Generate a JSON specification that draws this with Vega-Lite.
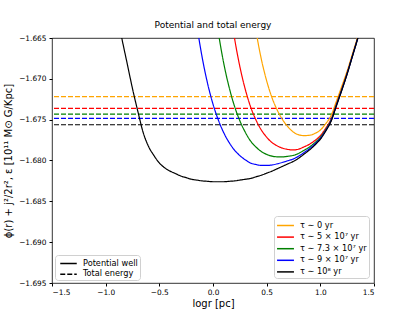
{
  "$schema": "https://vega.github.io/schema/vega-lite/v6.json",
  "width": 322,
  "height": 245,
  "autosize": {"type": "none"},
  "padding": {"left": 52, "top": 38, "right": 41, "bottom": 36},
  "title": {"text": "Potential and total energy", "fontSize": 9, "font": "DejaVu Sans", "fontWeight": "normal", "color": "black", "offset": 4},
  "config": {
    "view": {"stroke": "black", "strokeWidth": 0.8},
    "font": "DejaVu Sans",
    "axis": {"grid": false, "domain": false, "tickColor": "black", "tickSize": 3, "labelColor": "black", "labelFontSize": 7.4, "labelFont": "DejaVu Sans", "titleColor": "black", "titleFontSize": 10, "titleFontWeight": "normal", "titleFont": "DejaVu Sans"},
    "legend": {"fillColor": "white", "strokeColor": "#d0d0d0", "cornerRadius": 3, "labelFontSize": 8.2, "labelFont": "DejaVu Sans", "labelColor": "black"}
  },
  "datasets": {
    "wells": [
      {"tau": "τ ∼ 0 yr", "logr": 0.35, "value": -1.65966},
      {"tau": "τ ∼ 0 yr", "logr": 0.40, "value": -1.66409},
      {"tau": "τ ∼ 0 yr", "logr": 0.45, "value": -1.66757},
      {"tau": "τ ∼ 0 yr", "logr": 0.50, "value": -1.67025},
      {"tau": "τ ∼ 0 yr", "logr": 0.55, "value": -1.67232},
      {"tau": "τ ∼ 0 yr", "logr": 0.60, "value": -1.67387},
      {"tau": "τ ∼ 0 yr", "logr": 0.65, "value": -1.67504},
      {"tau": "τ ∼ 0 yr", "logr": 0.70, "value": -1.6759},
      {"tau": "τ ∼ 0 yr", "logr": 0.75, "value": -1.67653},
      {"tau": "τ ∼ 0 yr", "logr": 0.80, "value": -1.67686},
      {"tau": "τ ∼ 0 yr", "logr": 0.85, "value": -1.67695},
      {"tau": "τ ∼ 0 yr", "logr": 0.90, "value": -1.67691},
      {"tau": "τ ∼ 0 yr", "logr": 0.95, "value": -1.67668},
      {"tau": "τ ∼ 0 yr", "logr": 1.00, "value": -1.67627},
      {"tau": "τ ∼ 0 yr", "logr": 1.05, "value": -1.6755},
      {"tau": "τ ∼ 0 yr", "logr": 1.10, "value": -1.67449},
      {"tau": "τ ∼ 0 yr", "logr": 1.15, "value": -1.67273},
      {"tau": "τ ∼ 0 yr", "logr": 1.20, "value": -1.6709},
      {"tau": "τ ∼ 0 yr", "logr": 1.25, "value": -1.66904},
      {"tau": "τ ∼ 0 yr", "logr": 1.30, "value": -1.66692},
      {"tau": "τ ∼ 0 yr", "logr": 1.35, "value": -1.66478},
      {"tau": "τ ∼ 0 yr", "logr": 1.40, "value": -1.66252},
      {"tau": "τ ∼ 5 × 10⁷ yr", "logr": 0.15, "value": -1.6605},
      {"tau": "τ ∼ 5 × 10⁷ yr", "logr": 0.20, "value": -1.66498},
      {"tau": "τ ∼ 5 × 10⁷ yr", "logr": 0.25, "value": -1.66849},
      {"tau": "τ ∼ 5 × 10⁷ yr", "logr": 0.30, "value": -1.67125},
      {"tau": "τ ∼ 5 × 10⁷ yr", "logr": 0.35, "value": -1.67342},
      {"tau": "τ ∼ 5 × 10⁷ yr", "logr": 0.40, "value": -1.67503},
      {"tau": "τ ∼ 5 × 10⁷ yr", "logr": 0.45, "value": -1.67626},
      {"tau": "τ ∼ 5 × 10⁷ yr", "logr": 0.50, "value": -1.67715},
      {"tau": "τ ∼ 5 × 10⁷ yr", "logr": 0.55, "value": -1.67781},
      {"tau": "τ ∼ 5 × 10⁷ yr", "logr": 0.60, "value": -1.67822},
      {"tau": "τ ∼ 5 × 10⁷ yr", "logr": 0.65, "value": -1.6785},
      {"tau": "τ ∼ 5 × 10⁷ yr", "logr": 0.70, "value": -1.67865},
      {"tau": "τ ∼ 5 × 10⁷ yr", "logr": 0.75, "value": -1.67871},
      {"tau": "τ ∼ 5 × 10⁷ yr", "logr": 0.80, "value": -1.6786},
      {"tau": "τ ∼ 5 × 10⁷ yr", "logr": 0.85, "value": -1.67832},
      {"tau": "τ ∼ 5 × 10⁷ yr", "logr": 0.90, "value": -1.678},
      {"tau": "τ ∼ 5 × 10⁷ yr", "logr": 0.95, "value": -1.67755},
      {"tau": "τ ∼ 5 × 10⁷ yr", "logr": 1.00, "value": -1.67696},
      {"tau": "τ ∼ 5 × 10⁷ yr", "logr": 1.05, "value": -1.67605},
      {"tau": "τ ∼ 5 × 10⁷ yr", "logr": 1.10, "value": -1.67492},
      {"tau": "τ ∼ 5 × 10⁷ yr", "logr": 1.15, "value": -1.67308},
      {"tau": "τ ∼ 5 × 10⁷ yr", "logr": 1.20, "value": -1.67123},
      {"tau": "τ ∼ 5 × 10⁷ yr", "logr": 1.25, "value": -1.66926},
      {"tau": "τ ∼ 5 × 10⁷ yr", "logr": 1.30, "value": -1.66709},
      {"tau": "τ ∼ 5 × 10⁷ yr", "logr": 1.35, "value": -1.66491},
      {"tau": "τ ∼ 5 × 10⁷ yr", "logr": 1.40, "value": -1.66262},
      {"tau": "τ ∼ 7.3 × 10⁷ yr", "logr": -0.05, "value": -1.6536},
      {"tau": "τ ∼ 7.3 × 10⁷ yr", "logr": 0.00, "value": -1.6596},
      {"tau": "τ ∼ 7.3 × 10⁷ yr", "logr": 0.05, "value": -1.66433},
      {"tau": "τ ∼ 7.3 × 10⁷ yr", "logr": 0.10, "value": -1.66809},
      {"tau": "τ ∼ 7.3 × 10⁷ yr", "logr": 0.15, "value": -1.67102},
      {"tau": "τ ∼ 7.3 × 10⁷ yr", "logr": 0.20, "value": -1.67334},
      {"tau": "τ ∼ 7.3 × 10⁷ yr", "logr": 0.25, "value": -1.67513},
      {"tau": "τ ∼ 7.3 × 10⁷ yr", "logr": 0.30, "value": -1.67652},
      {"tau": "τ ∼ 7.3 × 10⁷ yr", "logr": 0.35, "value": -1.67761},
      {"tau": "τ ∼ 7.3 × 10⁷ yr", "logr": 0.40, "value": -1.67835},
      {"tau": "τ ∼ 7.3 × 10⁷ yr", "logr": 0.45, "value": -1.6789},
      {"tau": "τ ∼ 7.3 × 10⁷ yr", "logr": 0.50, "value": -1.67925},
      {"tau": "τ ∼ 7.3 × 10⁷ yr", "logr": 0.55, "value": -1.67947},
      {"tau": "τ ∼ 7.3 × 10⁷ yr", "logr": 0.60, "value": -1.67955},
      {"tau": "τ ∼ 7.3 × 10⁷ yr", "logr": 0.65, "value": -1.67955},
      {"tau": "τ ∼ 7.3 × 10⁷ yr", "logr": 0.70, "value": -1.67948},
      {"tau": "τ ∼ 7.3 × 10⁷ yr", "logr": 0.75, "value": -1.67937},
      {"tau": "τ ∼ 7.3 × 10⁷ yr", "logr": 0.80, "value": -1.67912},
      {"tau": "τ ∼ 7.3 × 10⁷ yr", "logr": 0.85, "value": -1.67874},
      {"tau": "τ ∼ 7.3 × 10⁷ yr", "logr": 0.90, "value": -1.67834},
      {"tau": "τ ∼ 7.3 × 10⁷ yr", "logr": 0.95, "value": -1.67781},
      {"tau": "τ ∼ 7.3 × 10⁷ yr", "logr": 1.00, "value": -1.67717},
      {"tau": "τ ∼ 7.3 × 10⁷ yr", "logr": 1.05, "value": -1.67622},
      {"tau": "τ ∼ 7.3 × 10⁷ yr", "logr": 1.10, "value": -1.67506},
      {"tau": "τ ∼ 7.3 × 10⁷ yr", "logr": 1.15, "value": -1.67319},
      {"tau": "τ ∼ 7.3 × 10⁷ yr", "logr": 1.20, "value": -1.67131},
      {"tau": "τ ∼ 7.3 × 10⁷ yr", "logr": 1.25, "value": -1.66933},
      {"tau": "τ ∼ 7.3 × 10⁷ yr", "logr": 1.30, "value": -1.66714},
      {"tau": "τ ∼ 7.3 × 10⁷ yr", "logr": 1.35, "value": -1.66495},
      {"tau": "τ ∼ 7.3 × 10⁷ yr", "logr": 1.40, "value": -1.66266},
      {"tau": "τ ∼ 9 × 10⁷ yr", "logr": -0.20, "value": -1.6584},
      {"tau": "τ ∼ 9 × 10⁷ yr", "logr": -0.15, "value": -1.66345},
      {"tau": "τ ∼ 9 × 10⁷ yr", "logr": -0.10, "value": -1.66744},
      {"tau": "τ ∼ 9 × 10⁷ yr", "logr": -0.05, "value": -1.67059},
      {"tau": "τ ∼ 9 × 10⁷ yr", "logr": 0.00, "value": -1.6731},
      {"tau": "τ ∼ 9 × 10⁷ yr", "logr": 0.05, "value": -1.67505},
      {"tau": "τ ∼ 9 × 10⁷ yr", "logr": 0.10, "value": -1.6766},
      {"tau": "τ ∼ 9 × 10⁷ yr", "logr": 0.15, "value": -1.67779},
      {"tau": "τ ∼ 9 × 10⁷ yr", "logr": 0.20, "value": -1.67872},
      {"tau": "τ ∼ 9 × 10⁷ yr", "logr": 0.25, "value": -1.6794},
      {"tau": "τ ∼ 9 × 10⁷ yr", "logr": 0.30, "value": -1.67991},
      {"tau": "τ ∼ 9 × 10⁷ yr", "logr": 0.35, "value": -1.68031},
      {"tau": "τ ∼ 9 × 10⁷ yr", "logr": 0.40, "value": -1.68049},
      {"tau": "τ ∼ 9 × 10⁷ yr", "logr": 0.45, "value": -1.6806},
      {"tau": "τ ∼ 9 × 10⁷ yr", "logr": 0.50, "value": -1.6806},
      {"tau": "τ ∼ 9 × 10⁷ yr", "logr": 0.55, "value": -1.68055},
      {"tau": "τ ∼ 9 × 10⁷ yr", "logr": 0.60, "value": -1.6804},
      {"tau": "τ ∼ 9 × 10⁷ yr", "logr": 0.65, "value": -1.68022},
      {"tau": "τ ∼ 9 × 10⁷ yr", "logr": 0.70, "value": -1.68002},
      {"tau": "τ ∼ 9 × 10⁷ yr", "logr": 0.75, "value": -1.6798},
      {"tau": "τ ∼ 9 × 10⁷ yr", "logr": 0.80, "value": -1.67946},
      {"tau": "τ ∼ 9 × 10⁷ yr", "logr": 0.85, "value": -1.67901},
      {"tau": "τ ∼ 9 × 10⁷ yr", "logr": 0.90, "value": -1.67855},
      {"tau": "τ ∼ 9 × 10⁷ yr", "logr": 0.95, "value": -1.67798},
      {"tau": "τ ∼ 9 × 10⁷ yr", "logr": 1.00, "value": -1.6773},
      {"tau": "τ ∼ 9 × 10⁷ yr", "logr": 1.05, "value": -1.67632},
      {"tau": "τ ∼ 9 × 10⁷ yr", "logr": 1.10, "value": -1.67514},
      {"tau": "τ ∼ 9 × 10⁷ yr", "logr": 1.15, "value": -1.67325},
      {"tau": "τ ∼ 9 × 10⁷ yr", "logr": 1.20, "value": -1.67136},
      {"tau": "τ ∼ 9 × 10⁷ yr", "logr": 1.25, "value": -1.66937},
      {"tau": "τ ∼ 9 × 10⁷ yr", "logr": 1.30, "value": -1.66718},
      {"tau": "τ ∼ 9 × 10⁷ yr", "logr": 1.35, "value": -1.66498},
      {"tau": "τ ∼ 9 × 10⁷ yr", "logr": 1.40, "value": -1.66268},
      {"tau": "τ ∼ 10⁸ yr", "logr": -0.90, "value": -1.6616},
      {"tau": "τ ∼ 10⁸ yr", "logr": -0.85, "value": -1.6650},
      {"tau": "τ ∼ 10⁸ yr", "logr": -0.80, "value": -1.6681},
      {"tau": "τ ∼ 10⁸ yr", "logr": -0.75, "value": -1.6712},
      {"tau": "τ ∼ 10⁸ yr", "logr": -0.70, "value": -1.6740},
      {"tau": "τ ∼ 10⁸ yr", "logr": -0.65, "value": -1.6766},
      {"tau": "τ ∼ 10⁸ yr", "logr": -0.60, "value": -1.6783},
      {"tau": "τ ∼ 10⁸ yr", "logr": -0.55, "value": -1.6794},
      {"tau": "τ ∼ 10⁸ yr", "logr": -0.50, "value": -1.6803},
      {"tau": "τ ∼ 10⁸ yr", "logr": -0.45, "value": -1.6809},
      {"tau": "τ ∼ 10⁸ yr", "logr": -0.40, "value": -1.6813},
      {"tau": "τ ∼ 10⁸ yr", "logr": -0.35, "value": -1.6816},
      {"tau": "τ ∼ 10⁸ yr", "logr": -0.30, "value": -1.6819},
      {"tau": "τ ∼ 10⁸ yr", "logr": -0.25, "value": -1.6821},
      {"tau": "τ ∼ 10⁸ yr", "logr": -0.20, "value": -1.6823},
      {"tau": "τ ∼ 10⁸ yr", "logr": -0.15, "value": -1.6824},
      {"tau": "τ ∼ 10⁸ yr", "logr": -0.10, "value": -1.6825},
      {"tau": "τ ∼ 10⁸ yr", "logr": -0.05, "value": -1.68255},
      {"tau": "τ ∼ 10⁸ yr", "logr": 0.00, "value": -1.6826},
      {"tau": "τ ∼ 10⁸ yr", "logr": 0.05, "value": -1.6826},
      {"tau": "τ ∼ 10⁸ yr", "logr": 0.10, "value": -1.6826},
      {"tau": "τ ∼ 10⁸ yr", "logr": 0.15, "value": -1.68255},
      {"tau": "τ ∼ 10⁸ yr", "logr": 0.20, "value": -1.6825},
      {"tau": "τ ∼ 10⁸ yr", "logr": 0.25, "value": -1.6824},
      {"tau": "τ ∼ 10⁸ yr", "logr": 0.30, "value": -1.6823},
      {"tau": "τ ∼ 10⁸ yr", "logr": 0.35, "value": -1.6822},
      {"tau": "τ ∼ 10⁸ yr", "logr": 0.40, "value": -1.6820},
      {"tau": "τ ∼ 10⁸ yr", "logr": 0.45, "value": -1.6818},
      {"tau": "τ ∼ 10⁸ yr", "logr": 0.50, "value": -1.68155},
      {"tau": "τ ∼ 10⁸ yr", "logr": 0.55, "value": -1.6813},
      {"tau": "τ ∼ 10⁸ yr", "logr": 0.60, "value": -1.6810},
      {"tau": "τ ∼ 10⁸ yr", "logr": 0.65, "value": -1.6807},
      {"tau": "τ ∼ 10⁸ yr", "logr": 0.70, "value": -1.6804},
      {"tau": "τ ∼ 10⁸ yr", "logr": 0.75, "value": -1.6801},
      {"tau": "τ ∼ 10⁸ yr", "logr": 0.80, "value": -1.6797},
      {"tau": "τ ∼ 10⁸ yr", "logr": 0.85, "value": -1.6792},
      {"tau": "τ ∼ 10⁸ yr", "logr": 0.90, "value": -1.6787},
      {"tau": "τ ∼ 10⁸ yr", "logr": 0.95, "value": -1.6781},
      {"tau": "τ ∼ 10⁸ yr", "logr": 1.00, "value": -1.6774},
      {"tau": "τ ∼ 10⁸ yr", "logr": 1.05, "value": -1.6764},
      {"tau": "τ ∼ 10⁸ yr", "logr": 1.10, "value": -1.6752},
      {"tau": "τ ∼ 10⁸ yr", "logr": 1.15, "value": -1.6733},
      {"tau": "τ ∼ 10⁸ yr", "logr": 1.20, "value": -1.6714},
      {"tau": "τ ∼ 10⁸ yr", "logr": 1.25, "value": -1.6694},
      {"tau": "τ ∼ 10⁸ yr", "logr": 1.30, "value": -1.6672},
      {"tau": "τ ∼ 10⁸ yr", "logr": 1.35, "value": -1.6650},
      {"tau": "τ ∼ 10⁸ yr", "logr": 1.40, "value": -1.6627}
    ],
    "energies": [
      {"tau": "τ ∼ 0 yr", "energy": -1.67218},
      {"tau": "τ ∼ 5 × 10⁷ yr", "energy": -1.67361},
      {"tau": "τ ∼ 7.3 × 10⁷ yr", "energy": -1.67431},
      {"tau": "τ ∼ 9 × 10⁷ yr", "energy": -1.67483},
      {"tau": "τ ∼ 10⁸ yr", "energy": -1.67562}
    ]
  },
  "layer": [
    {
      "data": {"name": "energies"},
      "mark": {"type": "rule", "strokeWidth": 1.2},
      "encoding": {
        "y": {"field": "energy", "type": "quantitative", "scale": {"domain": [-1.695, -1.665], "nice": false, "zero": false},
          "axis": {"title": "ϕ(r) + j²/2r², ε [10¹¹ M⊙ G/Kpc]", "values": [-1.695, -1.69, -1.685, -1.68, -1.675, -1.67, -1.665], "format": ".3f", "labelExpr": "replace(datum.label, '-', '−')", "labelPadding": 3, "titlePadding": 5}},
        "color": {"field": "tau", "type": "nominal",
          "scale": {"domain": ["τ ∼ 0 yr", "τ ∼ 5 × 10⁷ yr", "τ ∼ 7.3 × 10⁷ yr", "τ ∼ 9 × 10⁷ yr", "τ ∼ 10⁸ yr"], "range": ["#FFA500", "#FF0000", "#008000", "#0000FF", "#000000"]},
          "legend": {"title": null, "orient": "bottom-right", "offset": 5, "padding": 2, "symbolType": "M-1.3,0H1.3", "symbolSize": 169, "symbolStrokeWidth": 1.5, "rowPadding": 0.6, "symbolOffset": 2, "labelOffset": 7}},
        "strokeDash": {"datum": "Total energy", "type": "nominal",
          "scale": {"domain": ["Potential well", "Total energy"], "range": [[1, 0], [5, 2]]},
          "legend": {"title": null, "orient": "bottom-left", "offset": 3, "padding": 2, "symbolType": "M-1.5,0H1.5", "symbolSize": 121, "symbolStrokeWidth": 1.5, "symbolStrokeColor": "black", "rowPadding": 0.7, "symbolOffset": 5, "labelOffset": 8}}
      }
    },
    {
      "data": {"name": "wells"},
      "mark": {"type": "line", "clip": true, "interpolate": "monotone", "strokeWidth": 1.2},
      "encoding": {
        "x": {"field": "logr", "type": "quantitative", "scale": {"domain": [-1.5, 1.5], "nice": false, "zero": false},
          "axis": {"title": "logr [pc]", "values": [-1.5, -1, -0.5, 0, 0.5, 1, 1.5], "format": ".1f", "labelExpr": "replace(datum.label, '-', '−')", "labelPadding": 2, "titlePadding": 3}},
        "y": {"field": "value", "type": "quantitative", "scale": {"domain": [-1.695, -1.665], "nice": false, "zero": false},
          "axis": {"title": "ϕ(r) + j²/2r², ε [10¹¹ M⊙ G/Kpc]", "values": [-1.695, -1.69, -1.685, -1.68, -1.675, -1.67, -1.665], "format": ".3f", "labelExpr": "replace(datum.label, '-', '−')", "labelPadding": 3, "titlePadding": 5}},
        "color": {"field": "tau", "type": "nominal",
          "scale": {"domain": ["τ ∼ 0 yr", "τ ∼ 5 × 10⁷ yr", "τ ∼ 7.3 × 10⁷ yr", "τ ∼ 9 × 10⁷ yr", "τ ∼ 10⁸ yr"], "range": ["#FFA500", "#FF0000", "#008000", "#0000FF", "#000000"]},
          "legend": {"title": null, "orient": "bottom-right", "offset": 5, "padding": 2, "symbolType": "M-1.3,0H1.3", "symbolSize": 169, "symbolStrokeWidth": 1.5, "rowPadding": 0.6, "symbolOffset": 2, "labelOffset": 7}},
        "strokeDash": {"datum": "Potential well", "type": "nominal",
          "scale": {"domain": ["Potential well", "Total energy"], "range": [[1, 0], [5, 2]]},
          "legend": {"title": null, "orient": "bottom-left", "offset": 3, "padding": 2, "symbolType": "M-1.5,0H1.5", "symbolSize": 121, "symbolStrokeWidth": 1.5, "symbolStrokeColor": "black", "rowPadding": 0.7, "symbolOffset": 5, "labelOffset": 8}}
      }
    }
  ]
}
